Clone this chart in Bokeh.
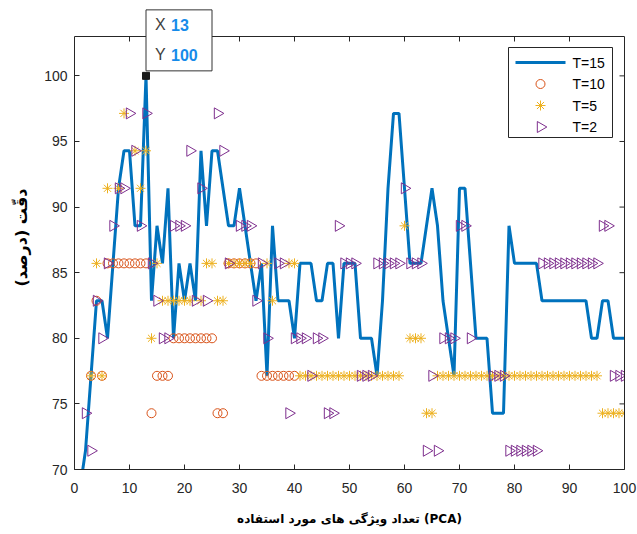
import math
from bokeh.plotting import figure
from bokeh.models import Range1d, LinearAxis, FixedTicker
from bokeh.core.properties import value
from bokeh.embed import file_html
from bokeh.resources import INLINE

# ---------------- data ----------------
x15 = list(range(1, 101))
acc15 = [68.57, 71.43, 77.14, 82.86, 82.86, 80.00, 85.71, 91.43, 94.29, 94.29,
         88.57, 88.57, 100.00, 82.86, 88.57, 85.71, 91.43, 80.00, 85.71, 82.86,
         85.71, 82.86, 94.29, 88.57, 94.29, 94.29, 91.43, 88.57, 88.57, 91.43,
         88.57, 85.71, 82.86, 85.71, 77.14, 88.57, 82.86, 82.86, 82.86, 80.00,
         85.71, 85.71, 85.71, 82.86, 82.86, 85.71, 85.71, 80.00, 85.71, 85.71,
         85.71, 80.00, 80.00, 80.00, 77.14, 82.86, 91.43, 97.14, 97.14, 91.43,
         85.71, 85.71, 85.71, 88.57, 91.43, 88.57, 82.86, 80.00, 77.14, 91.43,
         91.43, 85.71, 80.00, 80.00, 80.00, 74.29, 74.29, 74.29, 88.57, 85.71,
         85.71, 85.71, 85.71, 85.71, 82.86, 82.86, 82.86, 82.86, 82.86, 82.86,
         82.86, 82.86, 82.86, 80.00, 80.00, 82.86, 82.86, 80.00, 80.00, 80.00]

x10 = [3, 4, 5, 6, 7, 8, 9, 10, 11, 12, 13, 14, 15, 16, 17, 18, 19, 20, 21, 22,
       23, 24, 25, 26, 27, 28, 29, 30, 31, 32, 33, 34, 35, 36, 37, 38, 39, 40]
acc10 = [77.14, 82.86, 77.14, 85.71, 85.71, 85.71, 85.71, 85.71, 85.71, 85.71,
         85.71, 74.29, 77.14, 77.14, 77.14, 80.00, 80.00, 80.00, 80.00, 80.00,
         80.00, 80.00, 80.00, 74.29, 74.29, 85.71, 85.71, 85.71, 85.71, 85.71,
         85.71, 77.14, 77.14, 77.14, 77.14, 77.14, 77.14, 77.14]

x5 = [3, 4, 5, 6, 8, 9, 11, 12, 13, 14, 15, 16, 17, 18, 19, 20, 21, 23, 24, 25,
      26, 27, 28, 29, 30, 31, 32, 35, 36, 39, 40,
      41, 42, 43, 44, 45, 46, 47, 48, 49, 50, 51, 52, 53, 54, 55, 56, 57, 58, 59,
      60, 61, 62, 63, 64, 65,
      66, 67, 68, 69, 70, 71, 72, 73, 74, 75, 76, 77, 78, 79, 80, 81, 82, 83, 84,
      85, 86, 87, 88, 89, 90, 91, 92, 93, 94, 95, 96, 97, 98, 99, 100]
acc5 = [77.14, 85.71, 77.14, 91.43, 91.43, 97.14, 94.29, 91.43, 94.29, 80.00,
        85.71, 82.86, 82.86, 82.86, 82.86, 82.86, 82.86, 82.86, 85.71, 85.71,
        82.86, 82.86, 85.71, 85.71, 85.71, 85.71, 85.71, 85.71, 82.86, 85.71, 85.71,
        77.14, 77.14, 77.14, 77.14, 77.14, 77.14, 77.14, 77.14, 77.14, 77.14,
        77.14, 77.14, 77.14, 77.14, 77.14, 77.14, 77.14, 77.14, 77.14,
        88.57, 80.00, 80.00, 80.00, 74.29, 74.29,
        77.14, 77.14, 77.14, 77.14, 77.14, 77.14, 77.14, 77.14, 77.14, 77.14,
        77.14, 77.14, 77.14, 77.14, 77.14, 77.14, 77.14, 77.14, 77.14, 77.14,
        77.14, 77.14, 77.14, 77.14, 77.14, 77.14, 77.14, 77.14, 77.14, 77.14,
        74.29, 74.29, 74.29, 74.29, 74.29]

x2 = [2, 3, 4, 5, 6, 7, 8, 9, 10, 11, 12, 13, 14, 15, 16, 17, 18, 19, 20, 21,
      22, 23, 24, 26, 27, 28, 30, 31, 32, 33, 34, 35, 37, 38, 39, 40, 41, 42, 43,
      44, 45, 46, 47, 48, 49, 50, 51, 52, 53, 54, 55, 56, 57, 58, 59, 60, 61, 62,
      63, 64, 65, 66, 67, 68, 69, 70, 71, 72, 76, 77, 78, 79, 80, 81, 82, 83, 84,
      85, 86, 87, 88, 89, 90, 91, 92, 93, 94, 95, 96, 97, 98, 99, 100]
acc2 = [74.29, 71.43, 82.86, 80.00, 85.71, 88.57, 91.43, 91.43, 97.14, 94.29,
        88.57, 97.14, 85.71, 82.86, 80.00, 80.00, 88.57, 88.57, 88.57, 94.29,
        82.86, 91.43, 82.86, 97.14, 94.29, 85.71, 88.57, 88.57, 88.57, 82.86,
        85.71, 80.00, 85.71, 85.71, 74.29, 80.00, 80.00, 80.00, 77.14,
        80.00, 80.00, 74.29, 74.29, 88.57, 85.71, 85.71, 85.71, 77.14, 77.14, 77.14,
        85.71, 85.71, 85.71, 85.71, 85.71, 91.43, 85.71, 85.71,
        85.71, 71.43, 77.14, 71.43, 80.00, 80.00, 80.00, 88.57, 88.57, 80.00,
        77.14, 77.14, 77.14, 71.43, 71.43, 71.43, 71.43, 71.43, 71.43,
        85.71, 85.71, 85.71, 85.71, 85.71, 85.71, 85.71, 85.71, 85.71, 85.71, 85.71,
        88.57, 88.57, 77.14, 77.14, 77.14]

x_ticks = [0, 10, 20, 30, 40, 50, 60, 70, 80, 90, 100]
y_ticks = [70, 75, 80, 85, 90, 95, 100]
series_names = ["T=15", "T=10", "T=5", "T=2"]
tip_x, tip_y = 13, 100
x_lim = (0, 100)
y_lim = (70, 103)

x_title = "تعداد ویژگی های مورد استفاده (PCA)"
y_title = "دقّت (درصد)"

# ---------------- layout / styles ----------------
C15, C10, C5, C2 = "#0072BD", "#D95319", "#EDB120", "#7E2F8E"
AX = "#262626"
TICK_FONT = "Liberation Sans"
W, H = 637, 534
FRAME_L, FRAME_R = 74, 624          # pixel x of axes box left/right
AXES_T, FRAME_B = 36, 469           # pixel y of axes box top/bottom
FRAME_T = 5                         # drawing frame extends above the axes box (for the data tip)
XS = (FRAME_R - FRAME_L) / (x_lim[1] - x_lim[0])
YS = (FRAME_B - AXES_T) / (y_lim[1] - y_lim[0])
y_end = y_lim[0] + (FRAME_B - FRAME_T) / YS


def px2x(px):
    return x_lim[0] + (px - FRAME_L) / XS


def py2y(py):
    return y_lim[0] + (FRAME_B - py) / YS


p = figure(width=W, height=H, output_backend="svg", toolbar_location=None,
           x_range=Range1d(*x_lim), y_range=Range1d(y_lim[0], y_end),
           min_border_left=FRAME_L, min_border_right=W - FRAME_R,
           min_border_top=FRAME_T, min_border_bottom=H - FRAME_B)
p.background_fill_color = "white"
p.border_fill_color = "white"
p.xgrid.visible = False
p.ygrid.visible = False
p.outline_line_color = None

for ax in (p.xaxis[0], p.yaxis[0]):
    ax.major_tick_in = 5
    ax.major_tick_out = 0
    ax.minor_tick_line_color = None
    ax.axis_line_color = AX
    ax.major_tick_line_color = AX
    ax.major_label_text_font = TICK_FONT
    ax.major_label_text_font_size = "14px"
    ax.major_label_text_color = AX
    ax.axis_label_text_font = "DejaVu Sans"
    ax.axis_label_text_font_style = "bold"
    ax.axis_label_text_color = "black"

p.xaxis[0].ticker = FixedTicker(ticks=x_ticks)
p.yaxis[0].ticker = FixedTicker(ticks=y_ticks)
p.yaxis[0].bounds = y_lim
p.xaxis[0].major_label_standoff = 13
p.yaxis[0].major_label_standoff = 7
p.xaxis[0].axis_label = x_title
p.yaxis[0].axis_label = y_title
p.xaxis[0].axis_label_text_font_size = "12px"
p.yaxis[0].axis_label_text_font_size = "16px"
p.xaxis[0].axis_label_standoff = 16
p.yaxis[0].axis_label_standoff = 10

right_ax = LinearAxis(ticker=FixedTicker(ticks=[]), bounds=y_lim,
                      axis_line_color=AX, minor_tick_line_color=None,
                      major_tick_line_color=None)
p.add_layout(right_ax, "right")

# top border of the axes box and mirrored ticks (top / right)
p.line(list(x_lim), [y_lim[1], y_lim[1]], line_color=AX, line_width=1)
tick_dy = 5 / YS
tick_dx = 5 / XS
p.segment(x0=x_ticks, y0=[y_lim[1]] * len(x_ticks), x1=x_ticks,
          y1=[y_lim[1] - tick_dy] * len(x_ticks), line_color=AX, line_width=1)
p.segment(x0=[x_lim[1]] * len(y_ticks), y0=y_ticks, x1=[x_lim[1] - tick_dx] * len(y_ticks),
          y1=y_ticks, line_color=AX, line_width=1)

# ---------------- data glyphs ----------------
LW15 = 3
p.line(x15, acc15, line_color=C15, line_width=LW15)
p.scatter(x10, acc10, marker="circle", size=9, fill_color=None, line_color=C10, line_width=1)
p.scatter(x5, acc5, marker="asterisk", size=10, line_color=C5, line_width=1)
p.scatter(x2, acc2, marker="triangle", size=11, angle=-math.pi / 2,
          fill_color=None, line_color=C2, line_width=1)

# ---------------- data tip ----------------
tip_px = FRAME_L + (tip_x - x_lim[0]) * XS
tip_py = FRAME_B - (tip_y - y_lim[0]) * YS
p.quad(left=[px2x(tip_px)], right=[px2x(tip_px + 66)],
       top=[py2y(tip_py - 66)], bottom=[py2y(tip_py - 5)],
       fill_color="white", line_color="#333333", line_width=1)
p.scatter([tip_x], [tip_y], marker="square", size=7, fill_color="#1a1a1a",
          line_color="#1a1a1a")
tip_rows = [("X", str(tip_x), tip_py - 51), ("Y", str(tip_y), tip_py - 21)]
for name, val, py in tip_rows:
    p.text([px2x(tip_px + 9)], [py2y(py)], text=[name], text_font=value(TICK_FONT),
           text_font_size="16px", text_color="#404040", text_baseline="middle",
           text_align="left")
    p.text([px2x(tip_px + 25)], [py2y(py)], text=[val], text_font=value(TICK_FONT),
           text_font_size="16px", text_font_style="bold", text_color="#168BEA",
           text_baseline="middle", text_align="left")

# ---------------- legend (drawn in the axes) ----------------
LEG_L, LEG_R, LEG_T, LEG_B = 508, 612, 47, 137
row_py = [62, 83.5, 105, 126.5]
glyph_c = 540
p.quad(left=[px2x(LEG_L)], right=[px2x(LEG_R)], top=[py2y(LEG_T)], bottom=[py2y(LEG_B)],
       fill_color="white", line_color=AX, line_width=1)
p.line([px2x(515), px2x(565)], [py2y(row_py[0])] * 2, line_color=C15, line_width=LW15)
p.scatter([px2x(glyph_c)], [py2y(row_py[1])], marker="circle", size=9, fill_color=None,
          line_color=C10, line_width=1)
p.scatter([px2x(glyph_c)], [py2y(row_py[2])], marker="asterisk", size=10,
          line_color=C5, line_width=1)
p.scatter([px2x(glyph_c)], [py2y(row_py[3])], marker="triangle", size=11,
          angle=-math.pi / 2, fill_color=None, line_color=C2, line_width=1)
p.text([px2x(572)] * 4, [py2y(v) for v in row_py], text=series_names,
       text_font=value(TICK_FONT), text_font_size="14px", text_color="black",
       text_baseline="middle", text_align="left")

open("out.html", "w").write(file_html(p, INLINE))
